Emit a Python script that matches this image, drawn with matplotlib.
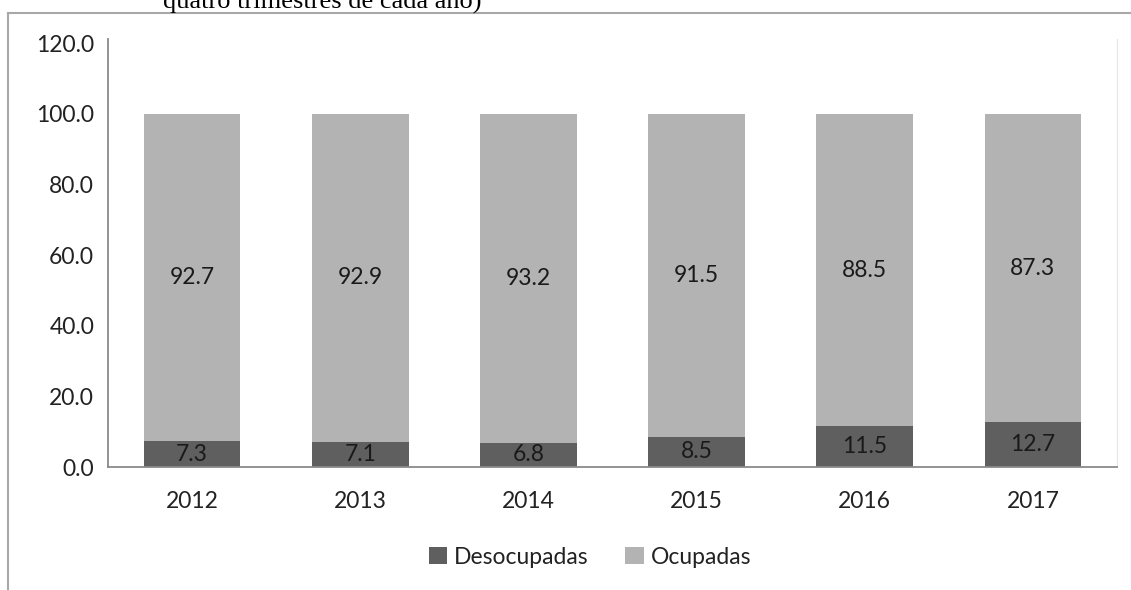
import numpy as np
import matplotlib.pyplot as plt
from matplotlib.lines import Line2D

## Data
anos = ['2012', '2013', '2014', '2015', '2016', '2017']
desocupadas = [7.3, 7.1, 6.8, 8.5, 11.5, 12.7]
ocupadas = [92.7, 92.9, 93.2, 91.5, 88.5, 87.3]
yticks = [0, 20, 40, 60, 80, 100, 120]

cor_desoc = '#5f5f5f'
cor_ocup = '#b3b3b3'
W, H = 1131, 590
fs = 16.5

plt.rcParams['font.family'] = ['Lato', 'DejaVu Sans']

fig = plt.figure(figsize=(W / 100, H / 100), dpi=100)
ax = fig.add_axes([108 / W, 1 - 467 / H, (1117 - 108) / W, (467 - 39) / H])

x = np.arange(len(anos))
b1 = ax.bar(x, desocupadas, width=0.575, color=cor_desoc, label='Desocupadas')
b2 = ax.bar(x, ocupadas, width=0.575, bottom=desocupadas, color=cor_ocup,
            label='Ocupadas')
ax.bar_label(b1, labels=[f'{v:.1f}' for v in desocupadas], label_type='center',
             fontsize=fs, color='#1a1a1a')
ax.bar_label(b2, labels=[f'{v:.1f}' for v in ocupadas], label_type='center',
             fontsize=fs, color='#1a1a1a')

ax.set_xlim(-0.5, len(anos) - 0.5)
ax.set_ylim(0, 121.2)
ax.set_yticks(yticks)
ax.set_yticklabels([f'{v:.1f}' for v in yticks])
ax.set_xticks(x)
ax.set_xticklabels(anos)
ax.tick_params(axis='both', length=0, labelsize=fs, colors='#222222')
ax.tick_params(axis='y', pad=10)
ax.tick_params(axis='x', pad=17)

ax.spines['top'].set_visible(False)
ax.spines['left'].set_color('#8a8a8a')
ax.spines['bottom'].set_color('#8a8a8a')
ax.spines['left'].set_linewidth(1.3)
ax.spines['bottom'].set_linewidth(1.3)
ax.spines['right'].set_color('#e6e6e6')

ax.legend(loc='center', bbox_to_anchor=(590 / W, 1 - 557 / H),
          bbox_transform=fig.transFigure, ncol=2, frameon=False, fontsize=fs,
          handlelength=0.8, handleheight=0.8, handletextpad=0.3,
          columnspacing=1.6, labelcolor='#222222')

# outer frame (image crop of a document)
fig.add_artist(Line2D([8 / W, 8 / W], [0, 1 - 13 / H], color='#a8a8a8', lw=1.5))
fig.add_artist(Line2D([8 / W, 1], [1 - 13 / H, 1 - 13 / H], color='#a8a8a8', lw=1.5))

fig.text(163 / W, 1 - 9 / H, 'quatro trimestres de cada ano)', family='Liberation Serif',
         fontsize=19, va='baseline', ha='left', color='black')

fig.savefig('out.png', dpi=100)
